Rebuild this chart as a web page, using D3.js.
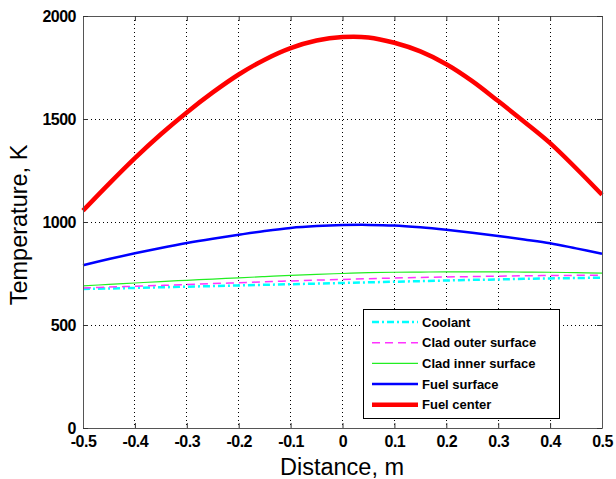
<!DOCTYPE html>
<html>
<head>
<meta charset="utf-8">
<script src="https://cdn.jsdelivr.net/npm/d3@7"></script>
<style>
  body { margin: 0; background: #fff; }
  svg { display: block; font-family: Arial, "Liberation Sans", sans-serif; }
</style>
</head>
<body>
<svg id="chart" width="616" height="479"></svg>
<script>
// data
const distance = [-0.5, -0.45, -0.4, -0.35, -0.3, -0.25, -0.2, -0.15, -0.1, -0.05, 0, 0.05, 0.1, 0.15, 0.2, 0.25, 0.3, 0.35, 0.4, 0.45, 0.5];
const coolant = [675, 677, 680, 683, 686, 689, 692, 695, 698, 701, 704, 707, 710, 713, 716, 719, 721, 724, 726, 728, 730];
const cladOuter = [680, 684, 688, 692, 696, 701, 705, 710, 714, 718, 721, 725, 728, 731, 733, 735, 737, 739, 740, 741, 742];
const cladInner = [690, 697, 704, 711, 717, 723, 729, 735, 741, 746, 750, 754, 756, 757, 758, 758, 758, 757, 756, 754, 752];
const fuelSurface = [790, 820, 848, 874, 898, 919, 938, 956, 971, 980, 985, 986, 983, 974, 962, 948, 932, 915, 897, 872, 846];
const fuelCenter = [1055, 1185, 1310, 1426, 1532, 1629, 1716, 1788, 1844, 1881, 1898, 1896, 1870, 1828, 1766, 1684, 1587, 1487, 1383, 1261, 1132];
const xTicks = [-0.5, -0.4, -0.3, -0.2, -0.1, 0, 0.1, 0.2, 0.3, 0.4, 0.5];
const yTicks = [0, 500, 1000, 1500, 2000];

const series = [
  { name: "Coolant", values: coolant, color: "#00ffff", width: 2.5, dash: "7,3,2,3" },
  { name: "Clad outer surface", values: cladOuter, color: "#ff33ff", width: 1.5, dash: "8,5" },
  { name: "Clad inner surface", values: cladInner, color: "#22ee22", width: 1.2, dash: null },
  { name: "Fuel surface", values: fuelSurface, color: "#0000ff", width: 2.5, dash: null },
  { name: "Fuel center", values: fuelCenter, color: "#ff0000", width: 4.5, dash: null }
];

const svg = d3.select("#chart");
const plotL = 83, plotR = 602, plotT = 16, plotB = 428;

const x = d3.scaleLinear().domain([-0.5, 0.5]).range([plotL, plotR]);
const y = d3.scaleLinear().domain([0, 2000]).range([plotB, plotT]);

// grid
const grid = svg.append("g");
grid.selectAll("line.vx").data(xTicks.slice(1, -1)).join("line")
  .attr("x1", d => x(d)).attr("x2", d => x(d))
  .attr("y1", plotT).attr("y2", plotB)
  .attr("stroke", "#000").attr("stroke-width", 1)
  .attr("stroke-dasharray", "1,3").attr("shape-rendering", "crispEdges");
grid.selectAll("line.hy").data(yTicks.slice(1, -1)).join("line")
  .attr("x1", plotL).attr("x2", plotR)
  .attr("y1", d => y(d)).attr("y2", d => y(d))
  .attr("stroke", "#000").attr("stroke-width", 1)
  .attr("stroke-dasharray", "1,3").attr("shape-rendering", "crispEdges");

// curves
const line = d3.line().x((d, i) => x(distance[i])).y(d => y(d)).curve(d3.curveCatmullRom);
svg.append("g").selectAll("path").data(series).join("path")
  .attr("d", d => line(d.values))
  .attr("fill", "none")
  .attr("stroke", d => d.color)
  .attr("stroke-width", d => d.width)
  .attr("stroke-dasharray", d => d.dash);

// axes (box with inward ticks on all sides)
const tickSize = 5;
const fmtX = d => d === 0 ? "0" : d3.format(".1f")(d).replace("\u2212", "-");
const xBottom = d3.axisBottom(x).tickValues(xTicks).tickSizeInner(-tickSize).tickSizeOuter(0).tickPadding(8).tickFormat(fmtX);
const xTop = d3.axisTop(x).tickValues(xTicks).tickSizeInner(-tickSize).tickSizeOuter(0).tickFormat("");
const yLeft = d3.axisLeft(y).tickValues(yTicks).tickSizeInner(-tickSize).tickSizeOuter(0).tickPadding(7).tickFormat(d3.format("d"));
const yRight = d3.axisRight(y).tickValues(yTicks).tickSizeInner(-tickSize).tickSizeOuter(0).tickFormat("");

function styleAxis(g) {
  g.select(".domain").attr("stroke", "#555");
  g.selectAll(".tick line").attr("stroke", "#333");
  g.selectAll("text").attr("fill", "#000").attr("font-size", 16).attr("font-weight", "bold")
    .attr("font-family", "Arial, 'Liberation Sans', sans-serif").attr("letter-spacing", -0.5);
}
svg.append("g").attr("transform", `translate(0,${plotB})`).call(xBottom).call(styleAxis);
svg.append("g").attr("transform", `translate(0,${plotT})`).call(xTop).call(styleAxis);
svg.append("g").attr("transform", `translate(${plotL},0)`).call(yLeft).call(styleAxis);
svg.append("g").attr("transform", `translate(${plotR},0)`).call(yRight).call(styleAxis);

// titles
svg.append("text").attr("x", 342).attr("y", 475)
  .attr("text-anchor", "middle").attr("font-size", 23.5).text("Distance, m");
svg.append("text").attr("transform", "translate(26.5,225) rotate(-90)")
  .attr("text-anchor", "middle").attr("font-size", 23.5).text("Temperature, K");

// legend
const lg = svg.append("g").attr("transform", "translate(363,309)");
lg.append("rect").attr("width", 196).attr("height", 109)
  .attr("fill", "#fff").attr("stroke", "#000").attr("stroke-width", 1).attr("shape-rendering", "crispEdges");
const rows = lg.selectAll("g.row").data(series).join("g")
  .attr("transform", (d, i) => `translate(0,${13 + i * 20.7})`);
rows.append("line").attr("x1", 9).attr("x2", 55).attr("y1", 0).attr("y2", 0)
  .attr("stroke", d => d.color).attr("stroke-width", d => d.width)
  .attr("stroke-dasharray", d => d.dash);
rows.append("text").attr("x", 59).attr("y", 0).attr("dy", "0.35em")
  .attr("font-size", 13).attr("font-weight", "bold").text(d => d.name);
</script>
</body>
</html>
